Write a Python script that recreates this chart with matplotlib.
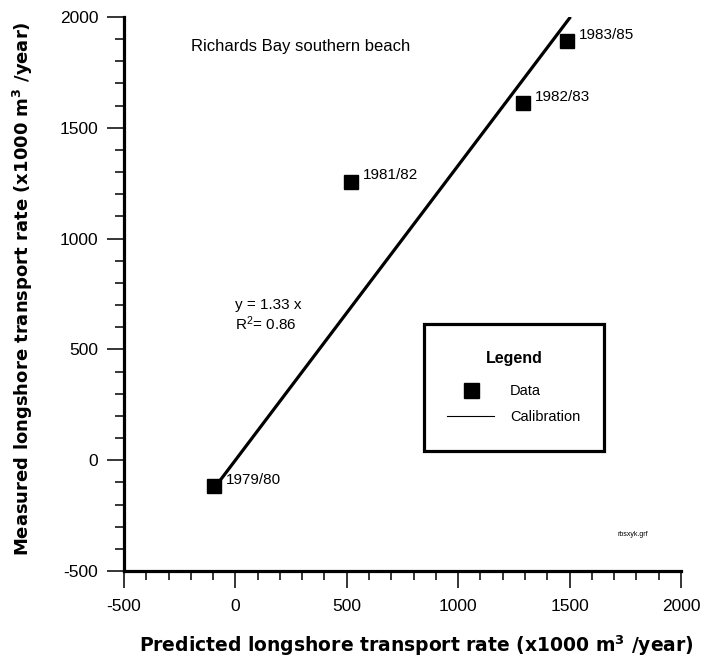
import numpy as np
import matplotlib
matplotlib.use("Agg")
import matplotlib.pyplot as plt
from matplotlib.patches import Rectangle
from matplotlib.lines import Line2D
from matplotlib.ticker import MultipleLocator

plt.rcParams['font.family'] = ['Liberation Sans', 'DejaVu Sans']
plt.rcParams['axes.unicode_minus'] = False
plt.rcParams['mathtext.fontset'] = 'custom'
plt.rcParams['mathtext.rm'] = 'Liberation Sans'
plt.rcParams['mathtext.it'] = 'Liberation Sans'
plt.rcParams['mathtext.bf'] = 'DejaVu Sans:bold'

# datos medidos vs predichos
years = ["1979/80", "1981/82", "1982/83", "1983/85"]
predicted = [-95, 518, 1290, 1488]
measured = [-117, 1257, 1610, 1891]

# recta de calibracion y = 1.33 x
slope = 1.33
x_fit = [-92, 1500]

fig = plt.figure(figsize=(7.02, 6.57), dpi=100)
ax = fig.add_axes([0.1766, 0.1309, 0.7934, 0.8432])

ax.plot(x_fit, [slope * v for v in x_fit], color='black', linewidth=2.3, zorder=2)
ax.plot(predicted, measured, 's', color='black', markersize=9.5, zorder=3)

for name, px, py in zip(years, predicted, measured):
    ax.annotate(name, (px, py), xytext=(8.5, 4.5), textcoords='offset points',
                fontsize=11, ha='left', va='center')

ax.text(-200, 1865, "Richards Bay southern beach", fontsize=12, ha='left', va='center')
ax.text(0, 700, "y = 1.33 x", fontsize=11, ha='left', va='center')
ax.text(0, 618, "R$^{2}$= 0.86", fontsize=11, ha='left', va='center')

ax.set_xlim(-500, 2000)
ax.set_ylim(-500, 2000)
ax.xaxis.set_major_locator(MultipleLocator(500))
ax.xaxis.set_minor_locator(MultipleLocator(100))
ax.yaxis.set_major_locator(MultipleLocator(500))
ax.yaxis.set_minor_locator(MultipleLocator(100))

for s in ['top', 'right']:
    ax.spines[s].set_visible(False)
for s in ['left', 'bottom']:
    ax.spines[s].set_linewidth(2.3)

ax.tick_params(which='major', length=12.5, width=1.1, labelsize=12.5)
ax.tick_params(axis='x', which='major', pad=8)
ax.tick_params(axis='y', which='major', pad=6)
ax.tick_params(which='minor', length=6.5, width=1.1)

ax.set_xlabel("Predicted longshore transport rate (x1000 m$^{\\mathbf{3}}$ /year)",
              family='DejaVu Sans', weight='bold', size=13.5)
ax.set_ylabel("Measured longshore transport rate (x1000 m$^{\\mathbf{3}}$ /year)",
              family='DejaVu Sans', weight='bold', size=13)
ax.xaxis.set_label_coords(0.525, -0.113)
ax.yaxis.set_label_coords(-0.160, 0.509)

# cuadro de la leyenda
ax.add_patch(Rectangle((0.5386, 0.2166), 0.3232, 0.2292, transform=ax.transAxes,
                       fill=False, edgecolor='black', linewidth=2.3, zorder=4))
handles = [Line2D([], [], marker='s', color='black', linestyle='none', markersize=10.8),
           Line2D([], [], color='black', linewidth=0.8)]
leg = ax.legend(handles, ["Data", "Calibration"], loc='center',
                bbox_to_anchor=(0.700, 0.331), frameon=False, fontsize=10.5,
                title="Legend", title_fontproperties={'weight': 'bold', 'size': 11.5},
                handlelength=3.2, handletextpad=1.1, labelspacing=0.8)
leg._legend_box.sep = 13

ax.text(0.913, 0.063, "rbsxyk.grf", fontsize=5, transform=ax.transAxes, ha='center')

fig.savefig("out.png", dpi=100)
